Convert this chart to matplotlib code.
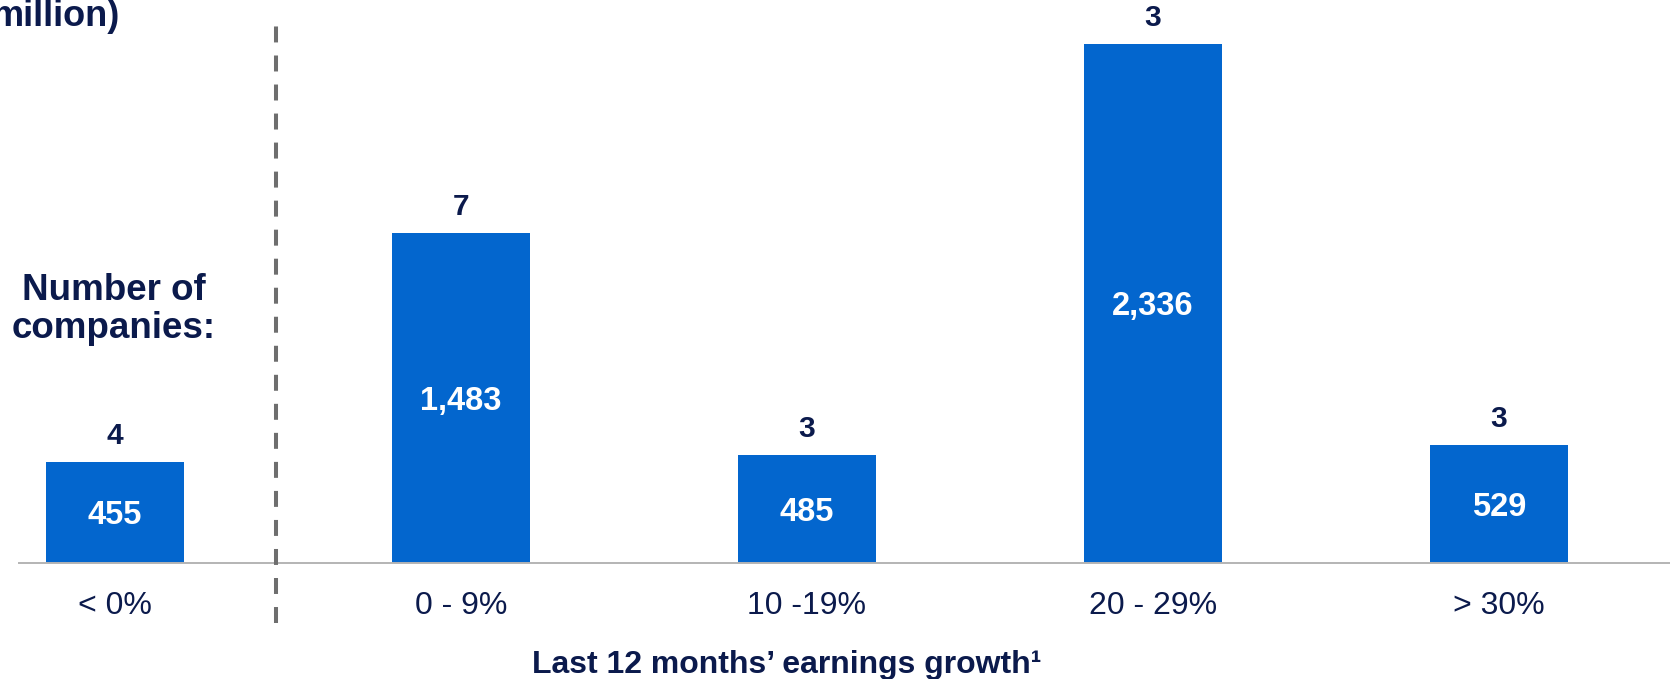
import matplotlib
matplotlib.use("Agg")
import matplotlib.pyplot as plt

# ---- data ----
categories = ["< 0%", "0 - 9%", "10 -19%", "20 - 29%", "> 30%"]
values = [455, 1483, 485, 2336, 529]
companies = [4, 7, 3, 3, 3]
value_labels = ["455", "1,483", "485", "2,336", "529"]
xlabel = "Last 12 months\u2019 earnings growth\u00b9"
side_label = ["Number of", "companies:"]
top_label = "million)"

# ---- style ----
W, H = 1670, 679
BLUE = "#0366CE"
NAVY = "#0B1A4C"
plt.rcParams["font.family"] = ["Liberation Sans", "DejaVu Sans"]
plt.rcParams["lines.scale_dashes"] = False

fig = plt.figure(figsize=(W / 100, H / 100), dpi=100)
ax_left, ax_bottom = 19 / W, (H - 563) / H
ax = fig.add_axes([ax_left, ax_bottom, 1 - ax_left, 1 - ax_bottom])

x = list(range(len(categories)))
ax.bar(x, values, width=0.40, color=BLUE, zorder=2)
ax.set_xlim(-0.277, 4.494)
ax.set_ylim(0, 563 / 0.2222)

for xi, v, c, lab in zip(x, values, companies, value_labels):
    ax.annotate(str(c), (xi, v), xytext=(0, 13), textcoords="offset points",
                ha="center", va="baseline", fontsize=21.5, fontweight="bold", color=NAVY)
    ax.annotate(lab, (xi, v / 2), xytext=(0, -8.5), textcoords="offset points",
                ha="center", va="baseline", fontsize=23.5, fontweight="bold", color="white")

ax.set_xticks(x)
ax.set_xticklabels(categories, fontsize=23, color=NAVY)
ax.tick_params(axis="x", length=0, pad=20.5)
ax.set_yticks([])
for s in ["left", "right", "top"]:
    ax.spines[s].set_visible(False)
ax.spines["bottom"].set_color("#b4b4b4")
ax.spines["bottom"].set_linewidth(1.4)

# dashed separator
sep_x = 0.465
ylo, yhi = (563 - 623) / 0.2222, (563 - 23) / 0.2222
ax.plot([sep_x, sep_x], [ylo, yhi], color="#6e6e6e", linewidth=2.9,
        dashes=(11.5, 9.4), clip_on=False, zorder=3)

# texts
fig.text(114 / W, 1 - 300 / H, side_label[0], ha="center", va="baseline",
         fontsize=26.5, fontweight="bold", color=NAVY)
fig.text(114 / W, 1 - 338 / H, side_label[1], ha="center", va="baseline",
         fontsize=26.5, fontweight="bold", color=NAVY)
fig.text(120 / W, 1 - 26 / H, top_label, ha="right", va="baseline",
         fontsize=26, fontweight="bold", color=NAVY)
fig.text(787 / W, 1 - 673 / H, xlabel, ha="center", va="baseline",
         fontsize=23, fontweight="bold", color=NAVY)

fig.savefig("out.png", dpi=100)
